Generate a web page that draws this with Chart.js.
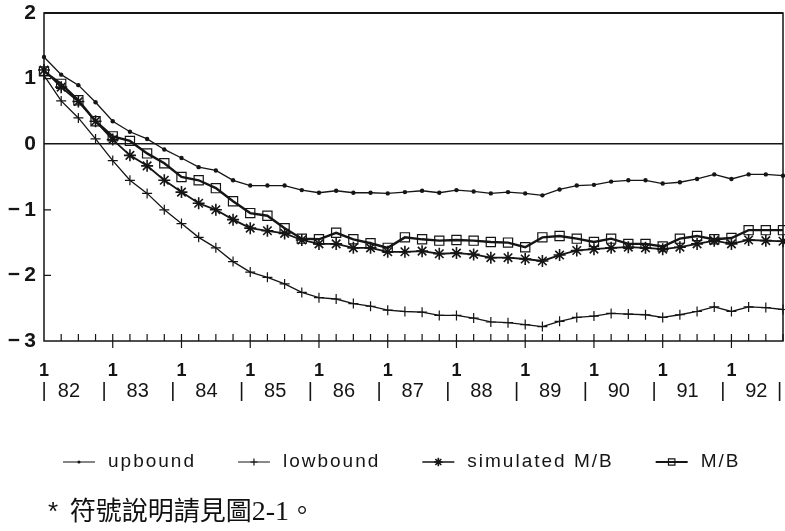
<!DOCTYPE html>
<html>
<head>
<meta charset="utf-8">
<script src="https://cdn.jsdelivr.net/npm/chart.js@4/dist/chart.umd.min.js"></script>
<style>
  html, body { margin: 0; padding: 0; background: #fff; }
  #wrap { position: relative; width: 785px; height: 531px; }
  #note { position: absolute; left: 48px; top: 492px; font-family: 'Noto Sans CJK TC', sans-serif; font-size: 26px; line-height: 34px; color: #111; white-space: nowrap; }
  #note .star { font-family: 'Liberation Sans', sans-serif; }
  #note .num { font-family: 'Liberation Serif', serif; font-size: 28px; }
</style>
</head>
<body>
<div id="wrap">
  <canvas id="myChart" width="785" height="531"></canvas>
  <div id="note"><span class="star">*</span>&nbsp; 符號說明請見圖<span class="num">2-1</span>。</div>
</div>
<script>
// quarterly data 1982Q1 .. 1992Q4
const years = ['82', '83', '84', '85', '86', '87', '88', '89', '90', '91', '92'];
const quarters = ['1', '2', '3', '4'];

const upbound = [1.33, 1.06, 0.90, 0.64, 0.35, 0.19, 0.08, -0.08, -0.21, -0.35, -0.40,
  -0.55, -0.63, -0.63, -0.63, -0.70, -0.74, -0.71, -0.74, -0.74, -0.75, -0.73,
  -0.71, -0.74, -0.70, -0.72, -0.75, -0.73, -0.75, -0.78, -0.69, -0.63, -0.62,
  -0.57, -0.55, -0.55, -0.60, -0.58, -0.53, -0.46, -0.53, -0.46, -0.46, -0.48];
const lowbound = [1.05, 0.66, 0.40, 0.08, -0.25, -0.55, -0.75, -1.00, -1.21, -1.42, -1.58,
  -1.79, -1.95, -2.03, -2.13, -2.26, -2.34, -2.36, -2.43, -2.47, -2.53, -2.55,
  -2.56, -2.61, -2.61, -2.65, -2.71, -2.72, -2.75, -2.78, -2.70, -2.64, -2.62,
  -2.58, -2.59, -2.60, -2.64, -2.60, -2.55, -2.48, -2.55, -2.48, -2.49, -2.52];
const simulated = [1.13, 0.87, 0.65, 0.35, 0.07, -0.17, -0.33, -0.55, -0.73, -0.90, -1.00,
  -1.15, -1.28, -1.32, -1.36, -1.46, -1.52, -1.52, -1.58, -1.58, -1.64, -1.64,
  -1.63, -1.67, -1.66, -1.68, -1.73, -1.73, -1.75, -1.78, -1.69, -1.62, -1.60,
  -1.58, -1.57, -1.58, -1.60, -1.57, -1.52, -1.47, -1.52, -1.46, -1.47, -1.48];
const mb = [1.11, 0.92, 0.67, 0.35, 0.12, 0.05, -0.14, -0.29, -0.50, -0.55, -0.67,
  -0.87, -1.05, -1.09, -1.28, -1.44, -1.45, -1.35, -1.45, -1.51, -1.58, -1.42,
  -1.45, -1.47, -1.46, -1.47, -1.49, -1.50, -1.57, -1.42, -1.40, -1.44, -1.49,
  -1.44, -1.52, -1.52, -1.56, -1.44, -1.40, -1.45, -1.43, -1.31, -1.31, -1.31];

const labels = years.flatMap(y => quarters.map(q => y + '-' + q));
const ink = '#151515';

// frame, zero line ticks and inside tick marks
const framePlugin = {
  id: 'frame',
  afterDraw(chart) {
    const ctx = chart.ctx;
    const a = chart.chartArea;
    const xs = chart.scales.x, ys = chart.scales.y;
    ctx.save();
    ctx.strokeStyle = ink;
    ctx.lineWidth = 1.5;
    ctx.strokeRect(a.left, a.top, a.right - a.left, a.bottom - a.top);
    ctx.lineWidth = 2.2;
    ctx.beginPath();
    ctx.moveTo(a.left, a.top); ctx.lineTo(a.right, a.top);
    ctx.stroke();
    ctx.lineWidth = 1.2;
    ctx.beginPath();
    labels.forEach((lab, i) => {
      if (i === 0) return;
      const px = xs.getPixelForValue(i);
      const yearStart = lab.endsWith('-' + quarters[0]);
      ctx.moveTo(px, a.bottom - 7);
      ctx.lineTo(px, yearStart ? a.bottom + 7 : a.bottom);
    });
    ys.ticks.forEach(t => {
      if (t.value === ys.min || t.value === ys.max || t.value === 0) return;
      const py = ys.getPixelForValue(t.value);
      ctx.moveTo(a.left, py);
      ctx.lineTo(a.left + 7, py);
    });
    ctx.stroke();
    ctx.restore();
  }
};

// legend: short line with marker, then the name
const legendPlugin = {
  id: 'lineLegend',
  afterDraw(chart) {
    const ctx = chart.ctx;
    const y = 462;
    let x = 63;
    ctx.save();
    ctx.font = '19px "Liberation Sans"';
    ctx.letterSpacing = '2px';
    ctx.textBaseline = 'middle';
    chart.data.datasets.forEach(ds => {
      ctx.strokeStyle = ink;
      ctx.fillStyle = ink;
      ctx.lineWidth = ds.borderWidth * 0.8;
      ctx.beginPath();
      ctx.moveTo(x, y); ctx.lineTo(x + 32, y);
      ctx.stroke();
      ctx.lineWidth = ds.pointBorderWidth;
      ctx.fillStyle = ds.pointBackgroundColor;
      Chart.helpers.drawPoint(ctx, {
        pointStyle: ds.pointStyle,
        radius: ds.pointRadius * 0.7,
        borderWidth: ds.pointBorderWidth,
        rotation: 0
      }, x + 16, y);
      ctx.fillStyle = ink;
      ctx.fillText(ds.label, x + 45, y);
      x += 45 + ctx.measureText(ds.label).width + 42;
    });
    ctx.restore();
  }
};

Chart.defaults.font.family = 'Liberation Sans';
Chart.defaults.color = ink;

const noSidePadding = s => { s.paddingLeft = 0; s.paddingRight = 0; };

const ctx = document.getElementById('myChart');
new Chart(ctx, {
  type: 'line',
  data: {
    labels: labels,
    datasets: [
      { label: 'upbound', data: upbound, borderColor: ink, borderWidth: 1.3,
        pointStyle: 'circle', pointRadius: 2.2, pointBackgroundColor: ink,
        pointBorderColor: ink, pointBorderWidth: 0, order: 4 },
      { label: 'lowbound', data: lowbound, borderColor: ink, borderWidth: 1.3,
        pointStyle: 'cross', pointRadius: 5, pointBackgroundColor: ink,
        pointBorderColor: ink, pointBorderWidth: 1.2, order: 3 },
      { label: 'simulated M/B', data: simulated, borderColor: ink, borderWidth: 1.8,
        pointStyle: 'star', pointRadius: 6, pointBackgroundColor: ink,
        pointBorderColor: ink, pointBorderWidth: 1.6, order: 2 },
      { label: 'M/B', data: mb, borderColor: ink, borderWidth: 2.4,
        pointStyle: 'rect', pointRadius: 6.5, pointBackgroundColor: 'rgba(0,0,0,0)',
        pointBorderColor: ink, pointBorderWidth: 1.2, order: 1 }
    ]
  },
  options: {
    responsive: false,
    animation: false,
    devicePixelRatio: 1,
    layout: { autoPadding: false, padding: { top: 13, right: 2, left: 0, bottom: 124 } },
    elements: { line: { tension: 0 } },
    datasets: { line: { clip: false } },
    plugins: { legend: { display: false }, tooltip: { enabled: false } },
    scales: {
      x: {
        type: 'category',
        offset: false,
        weight: 0,
        grid: { display: false, drawTicks: false },
        border: { display: false },
        ticks: {
          autoSkip: false, maxRotation: 0, padding: 19,
          font: { size: 18, weight: 'bold' },
          callback: function (value) {
            const q = this.getLabelForValue(value).split('-')[1];
            return q === quarters[0] ? q : '';
          }
        },
        afterFit: s => { s.height = 36; noSidePadding(s); }
      },
      x2: {
        type: 'linear',
        position: 'bottom',
        weight: 1,
        min: 0,
        max: labels.length - 1,
        offset: false,
        grid: { display: false, drawTicks: false },
        border: { display: false },
        afterBuildTicks: axis => {
          const t = [{ value: 0 }];
          years.forEach((y, k) => {
            if (k > 0) t.push({ value: 4 * k - 0.5 });
            t.push({ value: 4 * k + 1.45 });
          });
          t.push({ value: labels.length - 1.2 });
          axis.ticks = t;
        },
        ticks: {
          autoSkip: false, maxRotation: 0, padding: 2,
          font: { size: 20 },
          callback: value => {
            const k = Math.round((value - 1.45) / 4);
            return Math.abs(value - (4 * k + 1.45)) < 0.01 ? years[k] : '|';
          }
        },
        afterFit: s => { s.height = 30; noSidePadding(s); }
      },
      y: {
        min: -3,
        max: 2,
        ticks: {
          stepSize: 1, padding: 8, font: { size: 21, weight: 'bold' },
          callback: v => (v < 0 ? '\u2212\u2009' + Math.abs(v) : String(v))
        },
        grid: {
          drawTicks: false,
          lineWidth: 1.5,
          color: c => (c.tick && c.tick.value === 0 ? ink : 'rgba(0,0,0,0)')
        },
        border: { display: false },
        afterFit: s => { s.width = 44; s.paddingTop = 0; s.paddingBottom = 0; }
      }
    }
  },
  plugins: [framePlugin, legendPlugin]
});
</script>
</body>
</html>
